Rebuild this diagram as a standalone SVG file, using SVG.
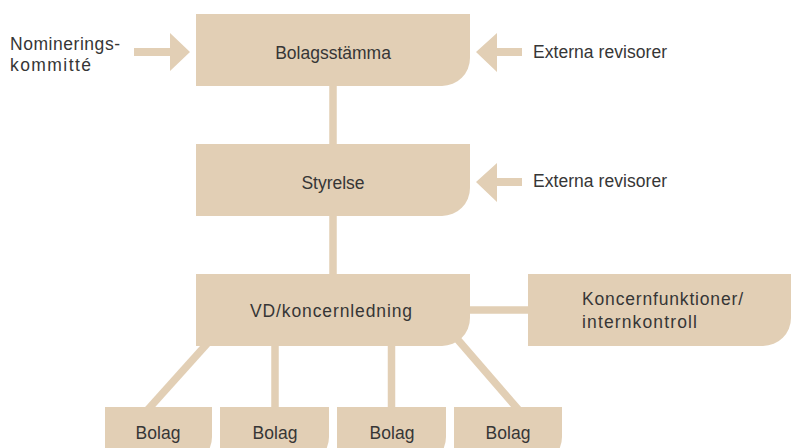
<svg xmlns="http://www.w3.org/2000/svg" width="791" height="448" viewBox="0 0 791 448">
<style>
.box{fill:#e2cfb5}
.ln{stroke:#e2cfb5;stroke-width:7.5;fill:none}
.ar{fill:#e2cfb5}
text{font-family:"Liberation Sans",Arial,sans-serif;font-size:17.5px;fill:#363636}
.c{text-anchor:middle}
</style>
<rect width="791" height="448" fill="#ffffff"/>
<g id="connectors">
<line class="ln" x1="333" y1="80" x2="333" y2="150"/>
<line class="ln" x1="333" y1="210" x2="333" y2="280"/>
<line class="ln" x1="465" y1="310" x2="533" y2="310"/>
<line class="ln" x1="214" y1="336" x2="143" y2="415"/>
<line class="ln" x1="275" y1="340" x2="275" y2="412"/>
<line class="ln" x1="391.5" y1="340" x2="391.5" y2="412"/>
<line class="ln" x1="452" y1="333" x2="523" y2="415"/>
<path class="ar" d="M134,48 H170 V33 L190,52 L170,71 V56 H134 Z"/>
<path class="ar" d="M522,48 H497 V33 L476,52 L497,72 V56 H522 Z"/>
<path class="ar" d="M522,178 H497 V163 L476,182 L497,202 V186 H522 Z"/>
</g>
<g id="bolagsstamma">
<path class="box" d="M196,14 H470 V58 A28,28 0 0 1 442,86 H196 Z"/>
<text class="c" x="333" y="59">Bolagsstämma</text>
</g>
<g id="nomineringskommitte">
<text x="10" y="50" textLength="110">Nominerings-</text>
<text x="10" y="71" textLength="81">kommitté</text>
</g>
<g id="externa-revisorer-1">
<text x="533" y="58" textLength="134">Externa revisorer</text>
</g>
<g id="styrelse">
<path class="box" d="M196,144 H470 V188 A28,28 0 0 1 442,216 H196 Z"/>
<text class="c" x="333" y="189">Styrelse</text>
</g>
<g id="externa-revisorer-2">
<text x="533" y="187" textLength="134">Externa revisorer</text>
</g>
<g id="vd">
<path class="box" d="M196,274 H470 V318 A28,28 0 0 1 442,346 H196 Z"/>
<text x="250" y="317" textLength="162">VD/koncernledning</text>
</g>
<g id="koncernfunktioner">
<path class="box" d="M528,274 H791 V318 A28,28 0 0 1 763,346 H528 Z"/>
<text x="582" y="305" textLength="161">Koncernfunktioner/</text>
<text x="582" y="328" textLength="115">internkontroll</text>
</g>
<g id="bolag1">
<path class="box" d="M105,407 H212 V437 A28,28 0 0 1 184,465 H105 Z"/>
<text class="c" x="158" y="439">Bolag</text>
</g>
<g id="bolag2">
<path class="box" d="M220,407 H329 V437 A28,28 0 0 1 301,465 H220 Z"/>
<text class="c" x="275" y="439">Bolag</text>
</g>
<g id="bolag3">
<path class="box" d="M337,407 H446 V437 A28,28 0 0 1 418,465 H337 Z"/>
<text class="c" x="392" y="439">Bolag</text>
</g>
<g id="bolag4">
<path class="box" d="M454,407 H562 V437 A28,28 0 0 1 534,465 H454 Z"/>
<text class="c" x="508" y="439">Bolag</text>
</g>
</svg>
